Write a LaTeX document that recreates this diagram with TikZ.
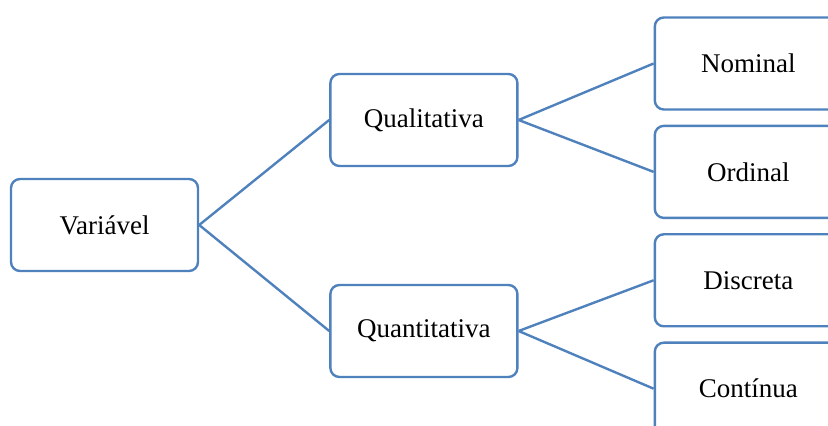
\documentclass[tikz,border=0pt]{standalone}
\usepackage{fontspec}
\setmainfont{Liberation Serif}
\usepackage{tikz}
\usetikzlibrary{
        positioning
    }
\definecolor{boxblue}{HTML}{4F81BD}
\tikzset{node distance=7pt}
\tikzset{class box/.style={draw=boxblue,line width=1.2pt,rounded corners=4.5pt,
        minimum width=93.5pt,minimum height=46pt,inner sep=0pt,
        font=\fontsize{13.5}{16}\selectfont}}
\tikzset{link/.style={draw=boxblue,line width=1.2pt}}

\begin{document}
\begin{tikzpicture}
            \useasboundingbox (-52.25pt,-100.5pt) rectangle (361.75pt,112.5pt);
            \node[class box] (var) at (0,0) {Variável};
            \node[class box] (qual) [right=65pt of var,yshift=52.5pt] {Qualitativa};
            \node[class box] (quant) [right=65pt of var,yshift=-53pt] {Quantitativa};
            \node[class box] (nom) [right=67.5pt of qual,yshift=28.25pt] {Nominal};
            \node[class box] (ord) [below=of nom] {Ordinal};
            \node[class box] (disc) [below=of ord] {Discreta};
            \node[class box] (cont) [below=of disc] {Contínua};
            \path[link]
                (var.east)  edge (qual.west)
                (var.east)  edge (quant.west)
                (qual.east) edge (nom.west)
                (qual.east) edge (ord.west)
                (quant.east) edge (disc.west)
                (quant.east) edge (cont.west)
            ;
        \end{tikzpicture}
\end{document}
